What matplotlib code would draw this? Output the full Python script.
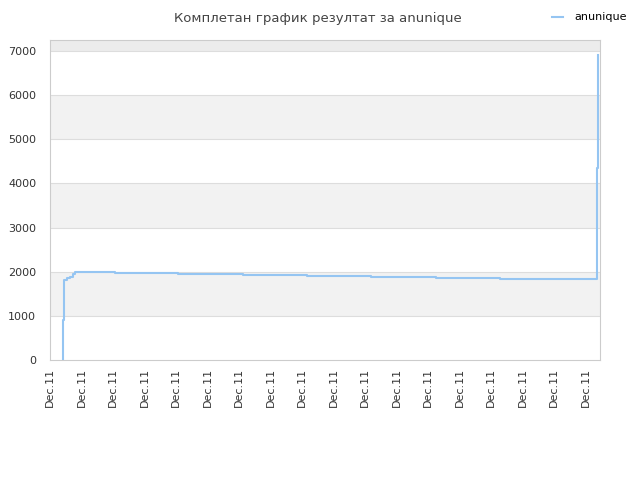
import matplotlib
matplotlib.use("Agg")
import matplotlib.pyplot as plt

# step series (x in tick units, one tick per "Dec.11" label)
x_vals = [0.41, 0.41, 0.45, 0.55, 0.65, 0.70, 0.74, 0.78, 2.06, 4.07, 6.13, 8.16, 10.2, 12.25, 14.29, 16.3, 17.36, 17.39, 17.41]
y_vals = [0, 900, 1820, 1850, 1870, 1890, 1950, 2000, 1978, 1956, 1934, 1912, 1890, 1868, 1846, 1824, 4350, 6900, 6900]
tick_labels = ["Dec.11"] * 18
series_name = "anunique"
title = "Комплетан график резултат за anunique"

fig = plt.figure(figsize=(6.4, 4.8), dpi=100)
ax = fig.add_axes([50 / 640, 120 / 480, 550 / 640, 320 / 480])

ymax = 7250
xmax = 17.46
ax.set_xlim(0, xmax)
ax.set_ylim(0, ymax)

# alternating bands
for lo in range(0, 8000, 1000):
    hi = min(lo + 1000, ymax)
    if (lo // 1000) % 2 == 1:
        ax.axhspan(lo, hi, color="#f2f2f2" if lo < 7000 else "#ececec", zorder=0, lw=0)
for yv in range(1000, 8000, 1000):
    ax.axhline(yv, color="#dddddd", lw=0.8, zorder=1)

ax.plot(x_vals, y_vals, drawstyle="steps-post", color="#95c5f2", lw=1.5, zorder=3, label=series_name)

ax.set_yticks(range(0, 8000, 1000))
ax.set_xticks(range(len(tick_labels)))
ax.set_xticklabels(tick_labels, rotation=90)
ax.tick_params(axis="both", length=0, labelsize=8, labelcolor="#333333")
ax.tick_params(axis="y", pad=10)
ax.tick_params(axis="x", pad=6)

for side in ["top", "right", "left", "bottom"]:
    ax.spines[side].set_color("#cccccc")

fig.text(0.497, 0.975, title, ha="center", va="top", fontsize=9.5, color="#444444")
fig.legend(loc="upper right", bbox_to_anchor=(0.995, 0.995), frameon=False, fontsize=8,
           handlelength=1.0, handletextpad=1.0)

fig.savefig("out.png", dpi=100)
